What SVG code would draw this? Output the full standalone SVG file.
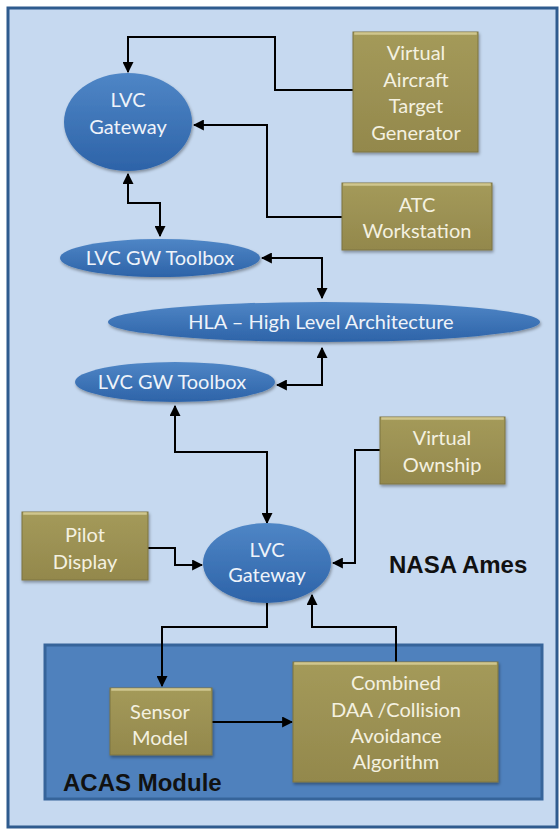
<svg xmlns="http://www.w3.org/2000/svg" width="560" height="830" viewBox="0 0 560 830">
<defs>
<linearGradient id="ell" x1="0" y1="0" x2="0" y2="1">
<stop offset="0" stop-color="#4f86c6"/>
<stop offset="1" stop-color="#2d63a8"/>
</linearGradient>
<linearGradient id="box" x1="0" y1="0" x2="0" y2="1">
<stop offset="0" stop-color="#a49a5a"/>
<stop offset="1" stop-color="#93884c"/>
</linearGradient>
<filter id="sh" x="-20%" y="-20%" width="140%" height="150%">
<feDropShadow dx="1" dy="2" stdDeviation="1.5" flood-color="#000" flood-opacity="0.35"/>
</filter>
<marker id="ah" viewBox="0 0 10 10" refX="9" refY="5" markerWidth="11" markerHeight="11" markerUnits="userSpaceOnUse" orient="auto-start-reverse">
<path d="M0,0 L10,5 L0,10 z" fill="#000"/>
</marker>
</defs>
<style>
.ell{fill:url(#ell);filter:url(#sh);}
.box{fill:url(#box);stroke:#7d7440;stroke-width:1;filter:url(#sh);}
.bev{fill:none;stroke:#cfc68e;stroke-width:1.5;}
.t{font-family:Lato,"Open Sans",sans-serif;font-size:20px;fill:#f4f1e0;text-anchor:middle;}
.te{font-family:Lato,"Open Sans",sans-serif;font-size:20px;fill:#eef3fa;text-anchor:middle;}
.c{fill:none;stroke:#000;stroke-width:2;}
.bold{font-family:"Liberation Sans",Arial,sans-serif;font-weight:bold;font-size:24px;fill:#111;}
</style>
<rect x="8" y="8" width="549" height="819" fill="#c6d9f0" stroke="#2f5b8e" stroke-width="3"/>
<g id="acas-module">
<rect x="45" y="645" width="497" height="154" fill="#4f81bd" stroke="#36649a" stroke-width="3"/>
<text class="bold" x="63" y="791">ACAS Module</text>
</g>
<g id="nasa-ames"><text class="bold" x="389" y="573">NASA Ames</text></g>

<g id="connectors">
<path class="c" d="M353,90 H275 V37 H128 V72" marker-end="url(#ah)"/>
<path class="c" d="M342,217 H267 V125 H194" marker-end="url(#ah)"/>
<path class="c" d="M128,174 V203 H160 V236" marker-start="url(#ah)" marker-end="url(#ah)"/>
<path class="c" d="M262,258 H322 V298" marker-start="url(#ah)" marker-end="url(#ah)"/>
<path class="c" d="M277,385 H322 V348" marker-start="url(#ah)" marker-end="url(#ah)"/>
<path class="c" d="M175,406 V452 H267 V523" marker-start="url(#ah)" marker-end="url(#ah)"/>
<path class="c" d="M148,548 H175 V565 H202" marker-end="url(#ah)"/>
<path class="c" d="M380,450 H355 V563 H333" marker-end="url(#ah)"/>
<path class="c" d="M267,603 V627 H162 V686" marker-end="url(#ah)"/>
<path class="c" d="M212,722 H292" marker-end="url(#ah)"/>
<path class="c" d="M396,662 V627 H312 V595" marker-end="url(#ah)"/>
</g>

<g id="lvc-gateway-top">
<ellipse class="ell" cx="128" cy="122" rx="64" ry="49"/>
<text class="te" x="128" y="107">LVC</text>
<text class="te" x="128" y="134">Gateway</text>
</g>
<g id="vatg">
<rect class="box" x="353" y="32" width="125" height="120"/>
<rect class="bev" x="355" y="33" width="121" height="1"/>
<text class="t" x="416" y="60">Virtual</text>
<text class="t" x="416" y="87">Aircraft</text>
<text class="t" x="416" y="113">Target</text>
<text class="t" x="416" y="140">Generator</text>
</g>
<g id="atc">
<rect class="box" x="342" y="183" width="150" height="67"/>
<rect class="bev" x="344" y="184" width="146" height="1"/>
<text class="t" x="417" y="212">ATC</text>
<text class="t" x="417" y="238">Workstation</text>
</g>
<g id="toolbox-top">
<ellipse class="ell" cx="160" cy="258" rx="100" ry="19"/>
<text class="te" x="160" y="265">LVC GW Toolbox</text>
</g>
<g id="hla">
<ellipse class="ell" cx="324" cy="322" rx="216" ry="20"/>
<text class="te" x="321" y="329">HLA – High Level Architecture</text>
</g>
<g id="toolbox-bottom">
<ellipse class="ell" cx="175" cy="382" rx="100" ry="20"/>
<text class="te" x="172" y="389">LVC GW Toolbox</text>
</g>
<g id="ownship">
<rect class="box" x="380" y="417" width="125" height="67"/>
<rect class="bev" x="382" y="418" width="121" height="1"/>
<text class="t" x="442" y="445">Virtual</text>
<text class="t" x="442" y="472">Ownship</text>
</g>
<g id="pilot">
<rect class="box" x="22" y="512" width="126" height="68"/>
<rect class="bev" x="24" y="513" width="122" height="1"/>
<text class="t" x="85" y="542">Pilot</text>
<text class="t" x="85" y="569">Display</text>
</g>
<g id="lvc-gateway-bottom">
<ellipse class="ell" cx="267" cy="563" rx="64" ry="40"/>
<text class="te" x="267" y="557">LVC</text>
<text class="te" x="267" y="582">Gateway</text>
</g>
<g id="sensor">
<rect class="box" x="110" y="688" width="102" height="67"/>
<rect class="bev" x="112" y="689" width="98" height="1"/>
<text class="t" x="160" y="719">Sensor</text>
<text class="t" x="160" y="745">Model</text>
</g>
<g id="combined">
<rect class="box" x="293" y="662" width="205" height="120"/>
<rect class="bev" x="295" y="663" width="201" height="1"/>
<text class="t" x="396" y="690">Combined</text>
<text class="t" x="396" y="717">DAA /Collision</text>
<text class="t" x="396" y="743">Avoidance</text>
<text class="t" x="396" y="769">Algorithm</text>
</g>
</svg>
